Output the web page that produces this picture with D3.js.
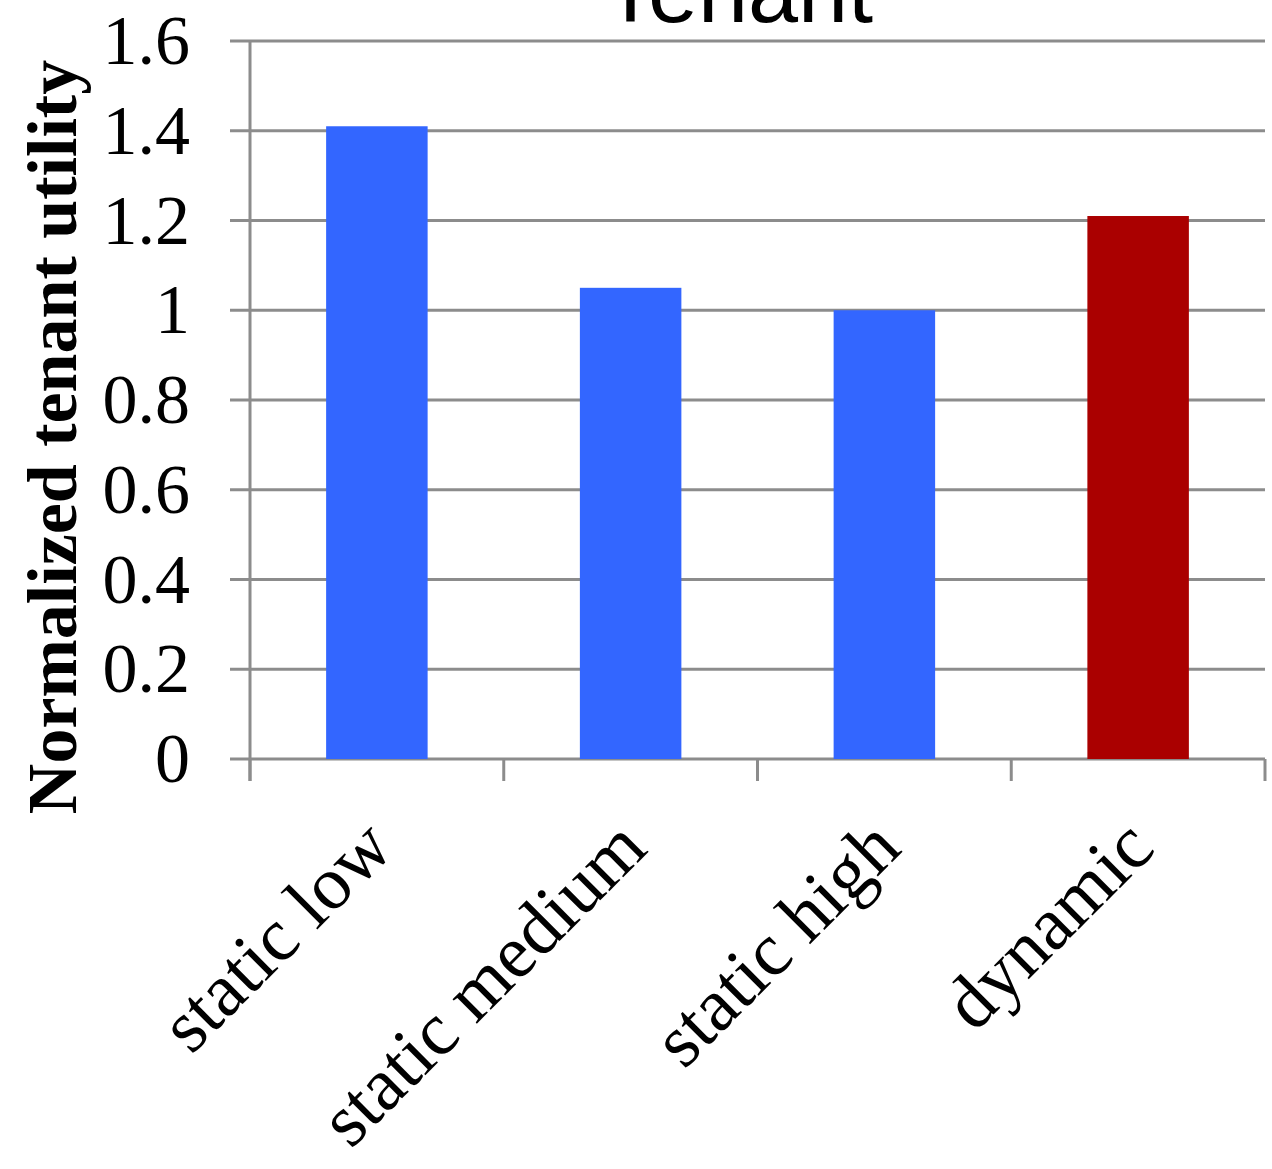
<!DOCTYPE html>
<html><head><meta charset="utf-8">
<script src="https://cdn.jsdelivr.net/npm/d3@7"></script>
<style>html,body{margin:0;padding:0;background:#fff;}</style>
</head><body>
<svg id="chart" width="1272" height="1169"></svg>
<script>
const categories = ["static low", "static medium", "static high", "dynamic"];
const values = [1.41, 1.05, 1.0, 1.21];
const barColors = ["#3366ff", "#3366ff", "#3366ff", "#aa0000"];
const yTicks = [0, 0.2, 0.4, 0.6, 0.8, 1, 1.2, 1.4, 1.6];
const title = "Tenant";
const yTitle = "Normalized tenant utility";

const svg = d3.select("#chart");
const m = {left: 250, right: 7, top: 41, bottom: 410};
const W = 1272, H = 1169;
const x = d3.scaleBand().domain(categories).range([m.left, W - m.right]).paddingInner(0.6).paddingOuter(0.3);
const y = d3.scaleLinear().domain([0, 1.6]).range([H - m.bottom, m.top]);
const grid = "#8c8c8c";

// gridlines
svg.append("g").selectAll("line").data(yTicks).join("line")
  .attr("x1", m.left - 20).attr("x2", W - m.right)
  .attr("y1", d => y(d)).attr("y2", d => y(d))
  .attr("stroke", grid).attr("stroke-width", 3);

// y axis line
svg.append("line").attr("x1", m.left).attr("x2", m.left)
  .attr("y1", y(1.6)).attr("y2", y(0) + 22)
  .attr("stroke", grid).attr("stroke-width", 3);

// x ticks at band boundaries
const step = x.step();
const bounds = d3.range(categories.length + 1).map(i => m.left + i * step);
svg.append("g").selectAll("line").data(bounds).join("line")
  .attr("x1", d => d).attr("x2", d => d)
  .attr("y1", y(0)).attr("y2", y(0) + 22)
  .attr("stroke", grid).attr("stroke-width", 3);

// bars
svg.append("g").selectAll("rect").data(values).join("rect")
  .attr("x", (d, i) => x(categories[i]))
  .attr("width", x.bandwidth())
  .attr("y", d => y(d))
  .attr("height", d => y(0) - y(d))
  .attr("fill", (d, i) => barColors[i]);

// y tick labels
svg.append("g").selectAll("text").data(yTicks).join("text")
  .attr("x", 190).attr("y", d => y(d))
  .attr("dy", "0.33em")
  .attr("text-anchor", "end")
  .attr("font-family", "'Liberation Serif', 'Times New Roman', serif")
  .attr("font-size", 70)
  .text(d => d3.format("")(d));

// x labels
svg.append("g").selectAll("text").data(categories).join("text")
  .attr("transform", d => `translate(${x(d) + x.bandwidth() / 2 + 19},${y(0) + 92}) rotate(-45)`)
  .attr("text-anchor", "end")
  .attr("font-family", "'Liberation Serif', 'Times New Roman', serif")
  .attr("font-size", 75)
  .text(d => d);

// y title
svg.append("text")
  .attr("transform", `translate(76,437) rotate(-90)`)
  .attr("text-anchor", "middle")
  .attr("font-family", "'Liberation Serif', 'Times New Roman', serif")
  .attr("font-weight", "bold")
  .attr("font-size", 70)
  .text(yTitle);

// title (cut off at top, as in the reference)
svg.append("text")
  .attr("x", 738).attr("y", 22)
  .attr("text-anchor", "middle")
  .attr("font-family", "'Liberation Sans', Arial, sans-serif")
  .attr("font-size", 90)
  .text(title);
</script>
</body></html>
